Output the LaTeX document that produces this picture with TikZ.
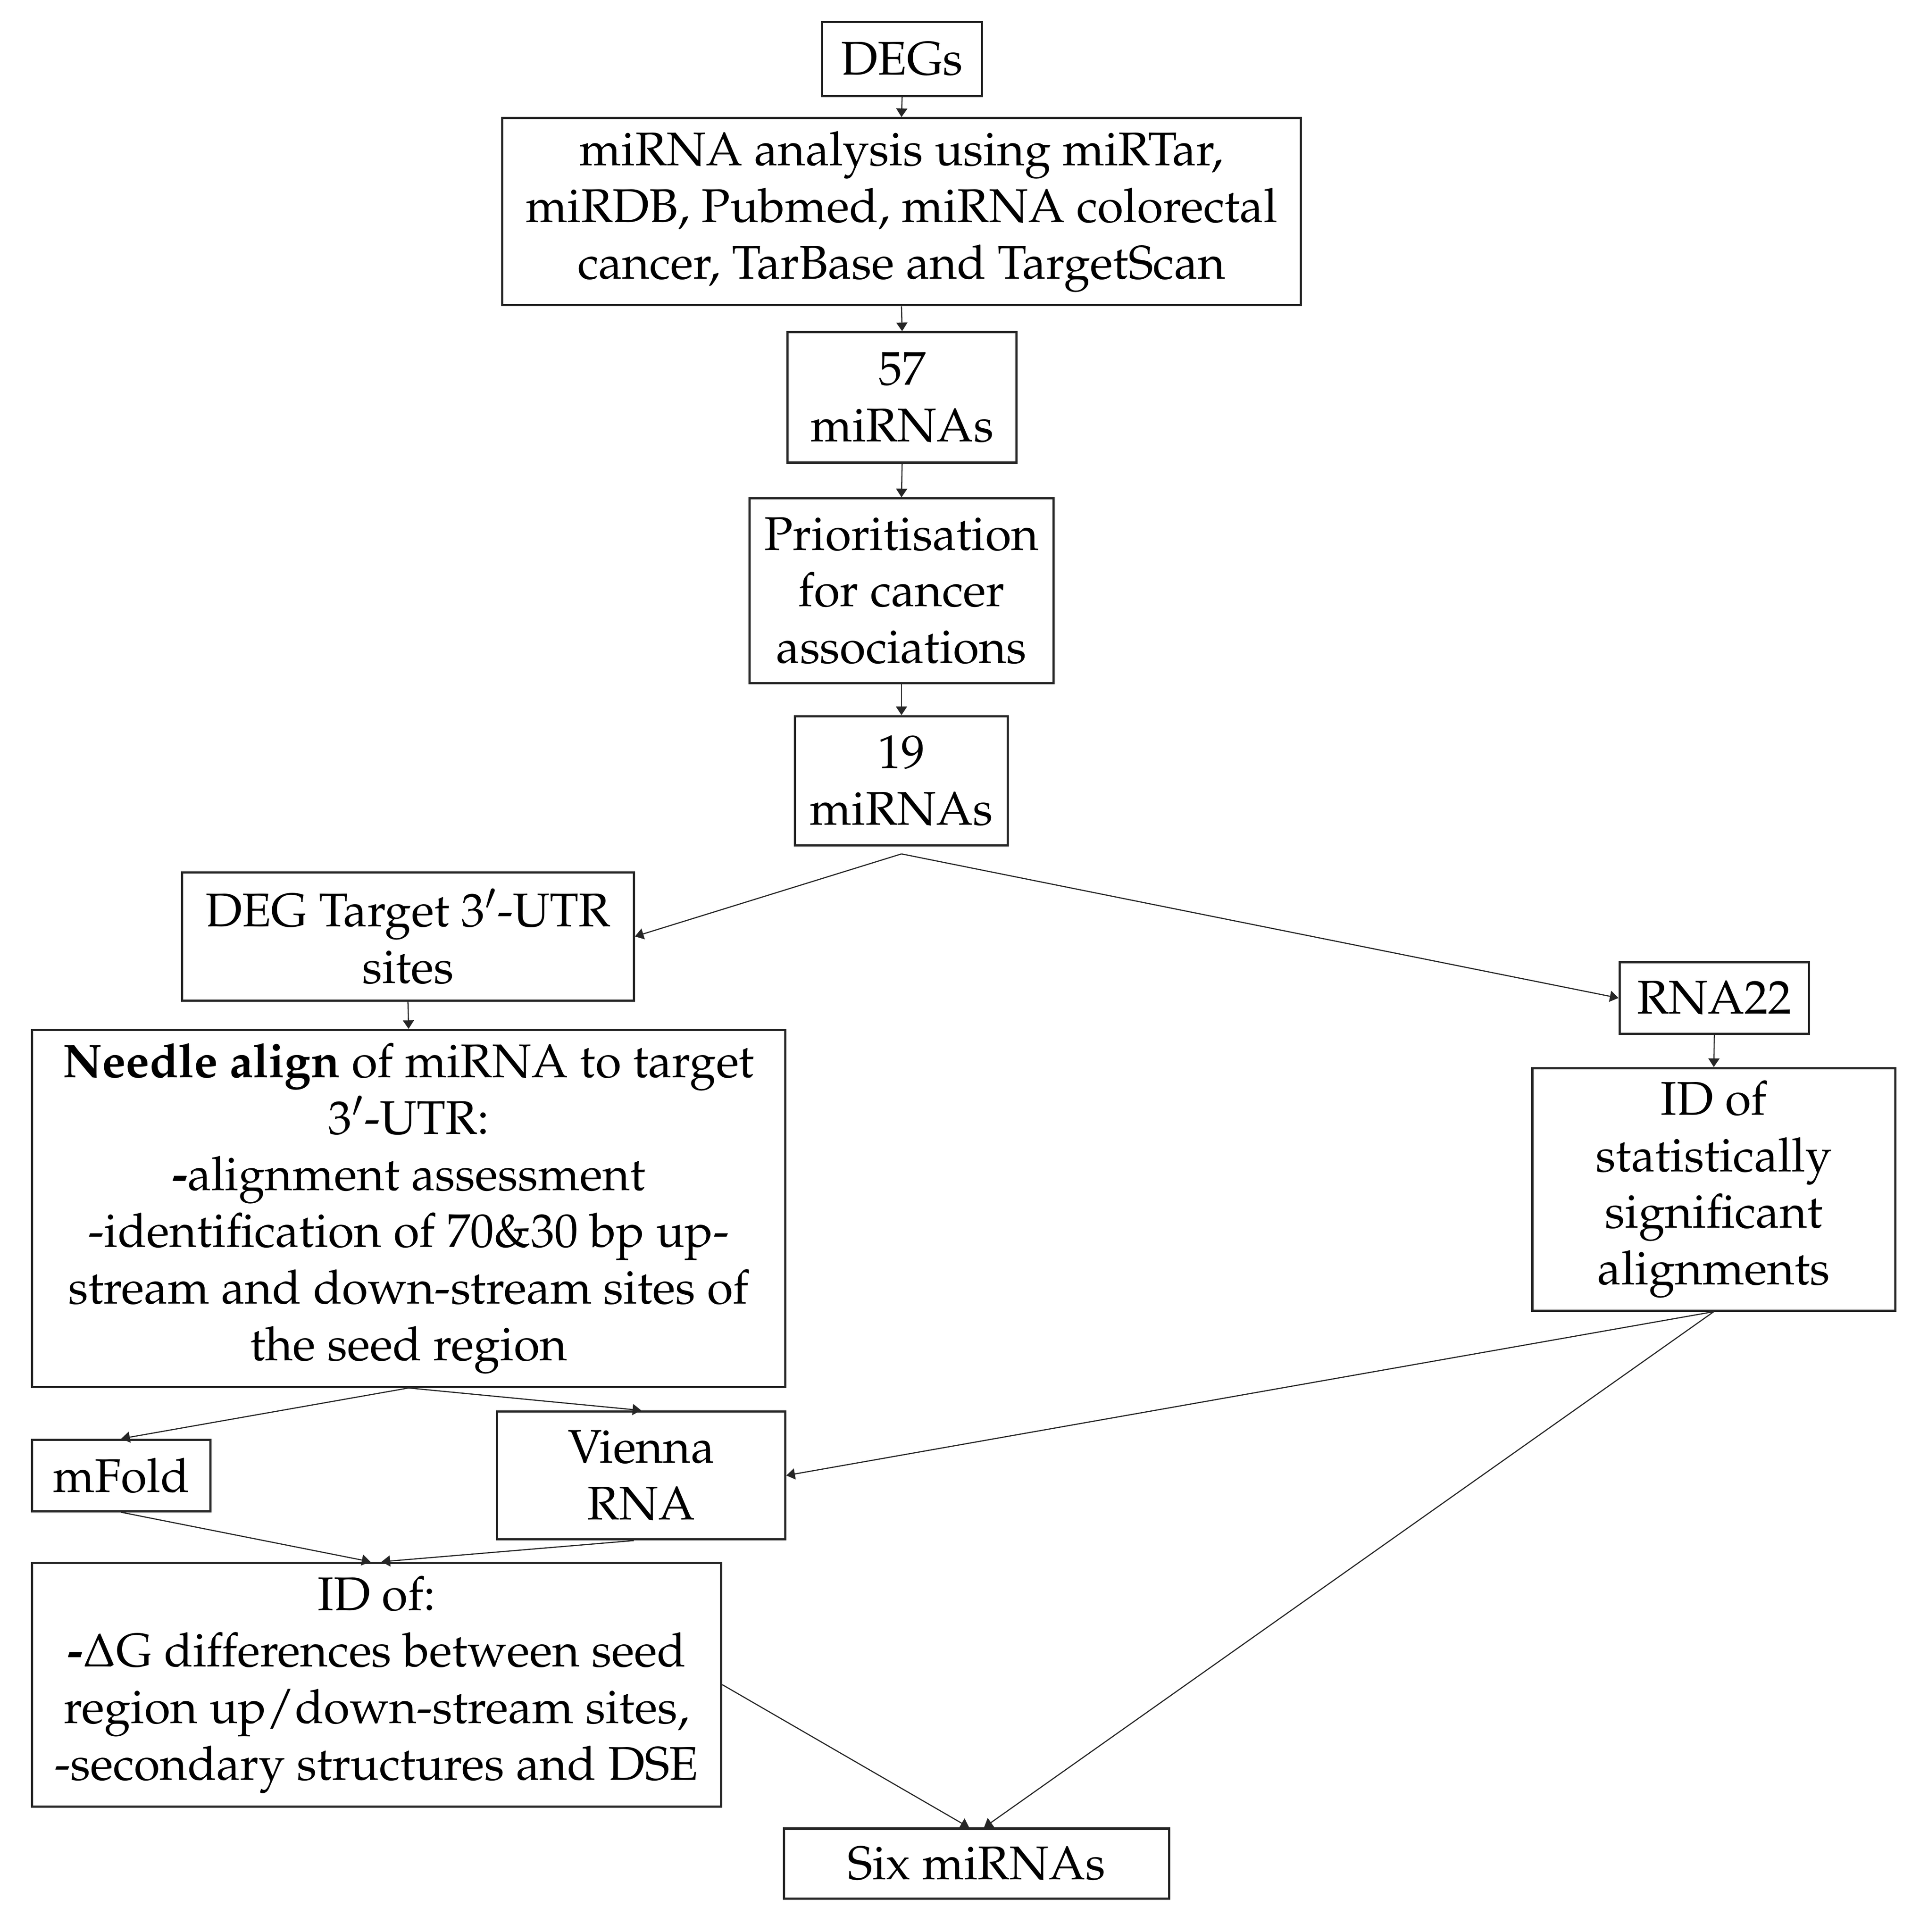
\documentclass[tikz,border=0pt]{standalone}
\usepackage[T1]{fontenc}
\usepackage{mathpazo}
\usetikzlibrary{arrows.meta,calc}
\tikzset{
  bx/.style={draw=black!85, line width=0.9pt, rectangle, inner sep=0pt, align=center,
    font=\fontsize{19.2}{23}\selectfont, text=black},
  conn/.style={draw=black!85, line width=0.45pt, -{Triangle[length=3.5pt,width=4.5pt]}}
}
\begin{document}
\begin{tikzpicture}[x=0.5pt,y=-0.5pt]
\fill[white] (0,0) rectangle (1560,1570);
\useasboundingbox (0,0) rectangle (1560,1570);

\node[bx, minimum width=65pt, minimum height=30pt] (degs) at (733,48) {DEGs};
\node[bx, minimum width=324.5pt, minimum height=76pt] (mirna) at (732.5,172)
  {miRNA analysis using miRTar,\\miRDB, Pubmed, miRNA colorectal\\cancer, TarBase and TargetScan};
\node[bx, minimum width=93pt, minimum height=53pt] (m57) at (733,323) {57\\miRNAs};
\node[bx, minimum width=123.5pt, minimum height=75pt] (prio) at (732.5,480)
  {Prioritisation\\for cancer\\associations};
\node[bx, minimum width=86.5pt, minimum height=52.5pt] (m19) at (732.5,634.5) {19\\miRNAs};
\node[bx, minimum width=183.5pt, minimum height=52pt] (deg) at (331.5,761)
  {DEG Target 3$'$-UTR\\sites};
\node[bx, minimum width=77pt, minimum height=29pt] (rna22) at (1393,811) {RNA22};
\node[bx, minimum width=306pt, minimum height=145pt] (needle) at (332,982)
  {\textbf{Needle align} of miRNA to target\\3$'$-UTR:\\\textbf{-}alignment assessment\\-identification of 70\&30 bp up-\\stream and down-stream sites of\\the seed region};
\node[bx, minimum width=147.5pt, minimum height=98.5pt] (idstat) at (1392.5,966.5)
  {ID of\\statistically\\significant\\alignments};
\node[bx, minimum width=72.5pt, minimum height=29pt] (mfold) at (98.5,1199) {mFold};
\node[bx, minimum width=117pt, minimum height=52pt] (vienna) at (521,1199) {Vienna\\RNA};
\node[bx, minimum width=280pt, minimum height=99pt] (idof) at (306,1369)
  {ID of:\\\textbf{-}$\Delta$G differences between seed\\region up/down-stream sites,\\-secondary structures and DSE};
\node[bx, minimum width=156.5pt, minimum height=28.5pt] (six) at (793.5,1514.5) {Six miRNAs};

\draw[conn] (degs.south) -- (mirna.north);
\draw[conn] (mirna.south) -- (m57.north);
\draw[conn] (m57.south) -- (prio.north);
\draw[conn] (prio.south) -- (m19.north);
\coordinate (m19b) at ($(m19.south)+(0,6)$);
\draw[conn] (m19b) -- (deg.east);
\draw[conn] (m19b) -- (rna22.west);
\draw[conn] (deg.south) -- (needle.north);
\draw[conn] (rna22.south) -- (idstat.north);
\draw[conn] (needle.south) -- (mfold.north);
\draw[conn] (needle.south) -- (vienna.north);
\draw[conn] (idstat.south) -- (vienna.east);
\draw[conn] (idstat.south) -- ($(six.north)+(6,0)$);
\draw[conn] (idof.east) -- ($(six.north)+(-6,0)$);
\draw[conn] (mfold.south) -- ($(idof.north)+(-5,0)$);
\draw[conn] ($(vienna.south)+(-6,0)$) -- ($(idof.north)+(4,0)$);
\end{tikzpicture}
\end{document}
